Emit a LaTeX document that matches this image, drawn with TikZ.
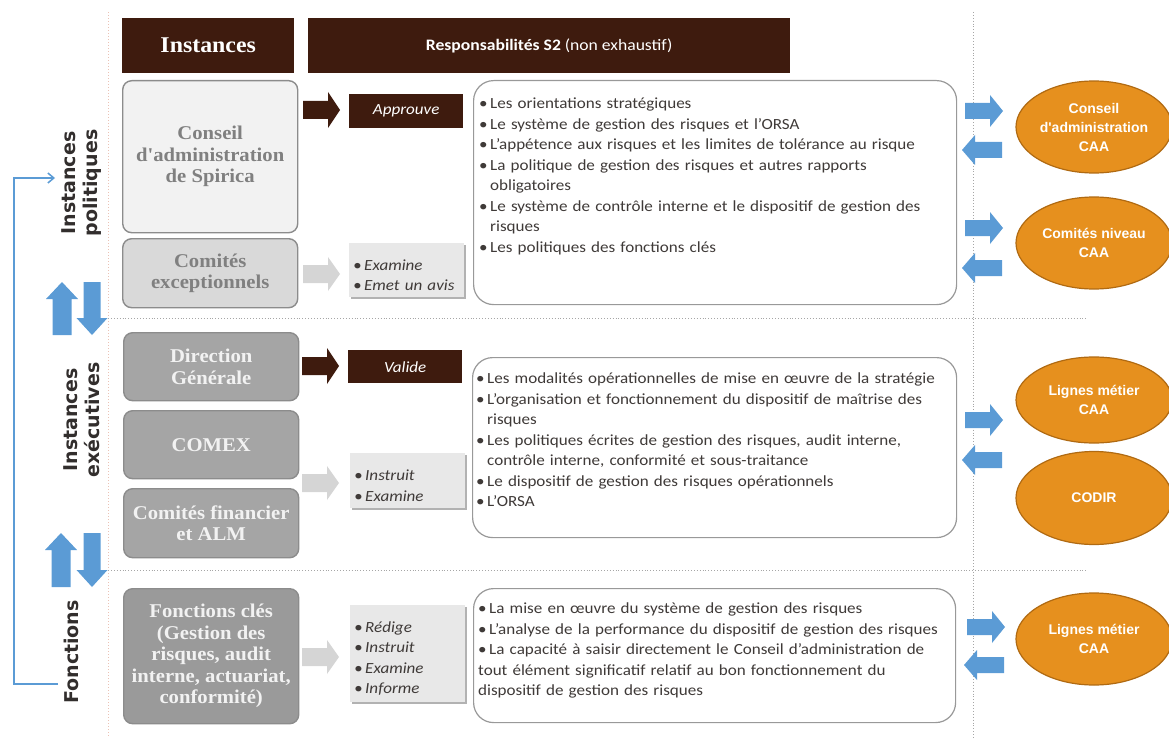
\documentclass[tikz,border=0pt]{standalone}
\usepackage{fontspec}
\setmainfont{Carlito}[FakeStretch=1.1]
\newfontfamily\policeserif{Liberation Serif}[FakeStretch=1.06]
\newfontfamily\policelabel{DejaVu Sans}
\newfontfamily\policeovale{Liberation Sans}
\usetikzlibrary{shapes.geometric, positioning, calc, arrows.meta, shadows}

\definecolor{brun}{HTML}{3E1B0E}
\definecolor{fondclair}{HTML}{F2F2F2}
\definecolor{fondmoyen}{HTML}{D9D9D9}
\definecolor{fondfonce}{HTML}{A5A5A5}
\definecolor{fondfonc}{HTML}{9A9A9A}
\definecolor{bordgris}{HTML}{8C8C8C}
\definecolor{grisfleche}{HTML}{D5D5D5}
\definecolor{etiquette}{HTML}{E8E8E8}
\definecolor{orangeCAA}{HTML}{E6901E}
\definecolor{orangebord}{HTML}{B06A12}
\definecolor{bleuF}{HTML}{5B9BD5}
\definecolor{texte}{HTML}{3F3A38}
\definecolor{pointille}{HTML}{EBC2B5}

\newcommand{\puce}{\par\noindent\hangindent=11pt\hangafter=1\makebox[11pt][l]{\textbullet}}

\tikzset{
  pics/fleche/.style args={#1/#2/#3/#4}{code={
    \fill (0,-#2) -- ({#1-#4},-#2) -- ({#1-#4},-#3) -- (#1,0)
          -- ({#1-#4},#3) -- ({#1-#4},#2) -- (0,#2) -- cycle;}}
}

\begin{document}
\begin{tikzpicture}[x=1pt,y=-1pt,
    entete/.style={rectangle,fill=brun,text=white,anchor=north west,inner sep=0pt,minimum height=55},
    instance/.style={rectangle,rounded corners=9pt,draw=bordgris,line width=1.4pt,anchor=north west,
      inner sep=0pt,align=center,minimum width=175,font=\policeserif\bfseries\fontsize{19.5}{21.5}\selectfont},
    verbe/.style={rectangle,fill=brun,text=white,anchor=north west,inner sep=0pt,minimum width=114,
      minimum height=34,font=\itshape\fontsize{15.5}{18}\selectfont},
    etiq/.style={rectangle,fill=etiquette,anchor=north west,inner xsep=4pt,inner ysep=0pt,text width=107,
      align=left,minimum width=115,text=texte,font=\itshape\fontsize{15.5}{20.5}\selectfont,
      drop shadow={shadow xshift=1.5pt,shadow yshift=-1.5pt,fill=black!30,opacity=1}},
    resp/.style={rectangle,rounded corners=20pt,draw=black!40,line width=1.2pt,anchor=north west,inner sep=0pt,fill=white},
    puces/.style={anchor=north west,inner sep=0pt,text width=478,align=left,text=texte,
      font=\fontsize{15.5}{20.5}\selectfont},
    ovale/.style={ellipse,fill=orangeCAA,draw=orangebord,line width=1.2pt,minimum width=156,minimum height=92,
      inner sep=0pt,align=center,text=white,font=\policeovale\bfseries\fontsize{14}{19}\selectfont},
    niveau/.style={rotate=90,align=center,text=texte!80!black,
      font=\policelabel\bfseries\fontsize{19}{22}\selectfont},
    separation/.style={black!35,dotted,line width=0.9pt}]

\useasboundingbox (0,0) rectangle (1169,738);

% lignes de separation
\draw[pointille,dotted,line width=1pt] (108,12) -- (108,738);
\draw[separation] (973,12) -- (973,738);
\draw[separation] (108,318) -- (1087,318);
\draw[separation] (108,570) -- (1087,570);

% en-tetes
\node[entete,minimum width=172,font=\policeserif\bfseries\fontsize{22.5}{24}\selectfont] (hInst) at (122,18) {Instances};
\node[entete,minimum width=482,font=\fontsize{16}{20}\selectfont] (hResp) at (308,18) {\textbf{Responsabilités S2} (non exhaustif)};

% instances
\node[instance,fill=fondclair,text=black!50,minimum height=152] (cadm) at (122,80) {Conseil\\d'administration\\de Spirica};
\node[instance,fill=fondmoyen,text=black!50,minimum height=69] (cexc) at (122,238) {Comités\\exceptionnels};
\node[instance,fill=fondfonce,text=fondclair,minimum height=68] (dg) at (123,332) {Direction\\Générale};
\node[instance,fill=fondfonce,text=fondclair,minimum height=68] (comex) at (123,410) {COMEX};
\node[instance,fill=fondfonce,text=fondclair,minimum height=69] (cfin) at (123,488) {Comités financier\\et ALM};
\node[instance,fill=fondfonc,text=fondclair,minimum height=135] (fcles) at (123,588) {Fonctions clés\\(Gestion des\\risques, audit\\interne, actuariat,\\conformité)};

% fleches vers les roles
\pic[fill=brun] (flAppr) at (303,110) {fleche=37/9/18/12};
\pic[fill=grisfleche] (flExam) at (303,274) {fleche=37/9/17/12};
\pic[fill=brun] (flVal) at (302,366) {fleche=37/9/18/12};
\pic[fill=grisfleche] (flInst) at (302,483) {fleche=37/9/17/12};
\pic[fill=grisfleche] (flRed) at (302,657) {fleche=37/9/17/12};

% roles
\node[verbe] (appr) at (349,94) {Approuve};
\node[etiq,minimum height=54] (exam) at (349,243) {\puce Examine\puce Emet un avis};
\node[verbe,minimum height=33] (val) at (348,350) {Valide};
\node[etiq,minimum height=55] (instr) at (350,453) {\puce Instruit\puce Examine};
\node[etiq,minimum height=97] (redig) at (350,605) {\puce Rédige\puce Instruit\puce Examine\puce Informe};

% responsabilites
\node[resp,minimum width=483,minimum height=224] (resp1) at (473,80) {};
\node[puces] (txt1) at (479,88) {%
  \puce Les orientations stratégiques
  \puce Le système de gestion des risques et l'ORSA
  \puce L'appétence aux risques et les limites de tolérance au risque
  \puce La politique de gestion des risques et autres rapports\newline obligatoires
  \puce Le système de contrôle interne et le dispositif de gestion des\newline risques
  \puce Les politiques des fonctions clés};
\node[resp,minimum width=484,minimum height=180] (resp2) at (472,357) {};
\node[puces] (txt2) at (476,363) {%
  \puce Les modalités opérationnelles de mise en œuvre de la stratégie
  \puce L'organisation et fonctionnement du dispositif de maîtrise des\newline risques
  \puce Les politiques écrites de gestion des risques, audit interne,\newline contrôle interne, conformité et sous-traitance
  \puce Le dispositif de gestion des risques opérationnels
  \puce L'ORSA};
\node[resp,minimum width=482,minimum height=134] (resp3) at (473,588) {};
\node[puces] (txt3) at (478,593) {%
  \puce La mise en œuvre du système de gestion des risques
  \puce L'analyse de la performance du dispositif de gestion des risques
  \puce La capacité à saisir directement le Conseil d'administration de\newline tout élément significatif relatif au bon fonctionnement du\newline dispositif de gestion des risques};

% echanges avec CAA
\pic[fill=bleuF] (bd1) at (965,111) {fleche=38/8/16/13};
\pic[fill=bleuF,rotate=180] (bg1) at (1002,150) {fleche=40/8/15/13};
\pic[fill=bleuF] (bd2) at (965,228) {fleche=38/8/16/13};
\pic[fill=bleuF,rotate=180] (bg2) at (1002,268) {fleche=40/8/15/13};
\pic[fill=bleuF] (bd3) at (965,420) {fleche=38/8/16/13};
\pic[fill=bleuF,rotate=180] (bg3) at (1002,460) {fleche=40/8/15/13};
\pic[fill=bleuF] (bd4) at (967,627) {fleche=38/8/16/13};
\pic[fill=bleuF,rotate=180] (bg4) at (1004,665) {fleche=40/8/15/13};

\node[ovale] (caCAA) at (1094,127) {Conseil\\d'administration\\CAA};
\node[ovale] (comCAA) at (1094,243) {Comités niveau\\CAA};
\node[ovale,minimum height=86] (lm1) at (1094,400) {Lignes métier\\CAA};
\node[ovale,minimum height=93] (codir) at (1094,498) {CODIR};
\node[ovale] (lm2) at (1094,639) {Lignes métier\\CAA};

% niveaux
\node[niveau] (lPol) at (82,183) {Instances\\politiques};
\node[niveau] (lExe) at (82,420) {Instances\\exécutives};
\node[niveau] (lFonc) at (71,652) {Fonctions};

\pic[fill=bleuF,rotate=90] (hautA) at (62,335) {fleche=53/9.5/16/17};
\pic[fill=bleuF,rotate=-90] (basA) at (92,282) {fleche=53/8.5/15.5/17};
\pic[fill=bleuF,rotate=90] (hautB) at (61,587) {fleche=54/9.5/16/17};
\pic[fill=bleuF,rotate=-90] (basB) at (92,533) {fleche=54/8.5/15.5/17};

\coordinate (brHaut) at (55,178);
\coordinate (brBas) at (58,684);
\draw[bleuF,line width=1.5pt,-{Straight Barb[length=6pt,width=10pt]}] (brBas) -- ++(-44,0) |- (brHaut);

\end{tikzpicture}
\end{document}
